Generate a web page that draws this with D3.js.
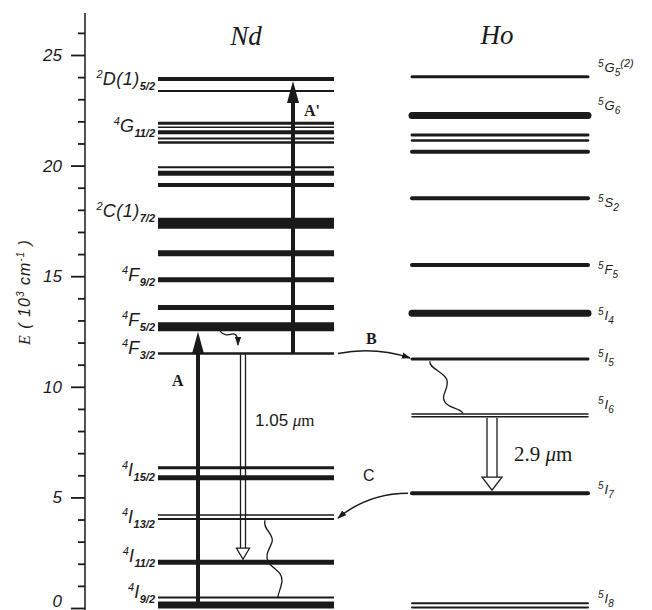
<!DOCTYPE html>
<html>
<head>
<meta charset="UTF-8">
<title>Nd - Ho energy levels</title>
<script src="https://d3js.org/d3.v7.min.js"></script>
<style>
  body { margin: 0; background: #fff; }
  svg { display: block; font-family: "Liberation Sans", Arial, sans-serif; }
</style>
</head>
<body>
<svg id="chart" width="652" height="610"></svg>
<script>
// energies in 10^3 cm^-1
var ndLevels = [23.91, 23.37, 21.91, 21.73, 21.51, 21.23, 21.04, 19.92, 19.65, 19.12,
                17.39, 16.04, 14.84, 13.58, 12.72, 11.51, 6.34, 5.89, 4.20, 4.02, 2.07, 0.48, 0.14];
var ndWeight = [4, 2, 3, 1.5, 4, 2, 2.5, 2, 5, 4, 11, 6, 5, 5, 9, 2.5, 3, 5, 1.5, 2, 5, 2, 7];

var hoLevels = [24.02, 22.26, 21.38, 21.13, 20.63, 18.52, 15.51, 13.32, 11.26, 8.77, 8.65, 5.19, 0.22, 0.02];
var hoWeight = [3, 7, 3, 2.5, 4, 4, 4, 7, 3, 1.5, 1.5, 4, 2, 2];

var ndSup = ["2", "4", "2", "4", "4", "4", "4", "4", "4", "4"];
var ndMain = ["D(1)", "G", "C(1)", "F", "F", "F", "I", "I", "I", "I"];
var ndSub = ["5/2", "11/2", "7/2", "9/2", "5/2", "3/2", "15/2", "13/2", "11/2", "9/2"];
var ndLabelE = [23.91, 21.79, 17.95, 15.05, 13.02, 11.75, 6.24, 4.11, 2.35, 0.72];

var hoSup = ["5", "5", "5", "5", "5", "5", "5", "5", "5"];
var hoMain = ["G", "G", "S", "F", "I", "I", "I", "I", "I"];
var hoSub = ["5", "6", "2", "5", "4", "5", "6", "7", "8"];
var hoExtra = ["(2)", "", "", "", "", "", "", "", ""];
var hoLabelE = [24.41, 22.69, 18.31, 15.28, 13.2, 11.3, 9.18, 5.33, 0.42];

var tickValues = d3.range(0, 27);
var tickLabels = ["0", "5", "10", "15", "20", "25"];

var svg = d3.select("#chart");
var ink = "#1a1a1a";
var y = d3.scaleLinear().domain([0, 25]).range([608, 55]);

var ndX = [158, 334], hoX = [412, 588];

// arrow heads
var defs = svg.append("defs");
defs.append("marker").attr("id", "head")
    .attr("viewBox", "0 0 10 10").attr("refX", 9).attr("refY", 5)
    .attr("markerWidth", 9).attr("markerHeight", 9).attr("orient", "auto")
    .attr("markerUnits", "userSpaceOnUse")
    .append("path").attr("d", "M0,1.5 L10,5 L0,8.5 Z").attr("fill", ink);

// axis
var axis = d3.axisLeft(y).tickValues(tickValues).tickSize(7).tickFormat("");
var gAxis = svg.append("g").attr("transform", "translate(85,0)").call(axis);
gAxis.select(".domain").remove();
gAxis.selectAll(".tick line").attr("stroke", ink).attr("stroke-width", 1.8)
    .attr("x2", function (d) { return d % 5 === 0 ? -14 : -7; });
gAxis.append("line").attr("x1", 0).attr("x2", 0)
    .attr("y1", y(26.9)).attr("y2", y(-0.2))
    .attr("stroke", ink).attr("stroke-width", 1.5);

svg.append("g").selectAll("text").data(tickLabels).enter().append("text")
    .attr("x", 62).attr("y", function (d) { return Math.min(y(+d) + 6, 607); })
    .attr("text-anchor", "end").attr("font-size", 17).attr("font-style", "italic")
    .attr("fill", ink).text(function (d) { return d; });

var yl = svg.append("text").attr("transform", "translate(30,292) rotate(-90)")
    .attr("text-anchor", "middle").attr("font-size", 16).attr("font-style", "italic")
    .attr("fill", ink).attr("letter-spacing", 1);
yl.append("tspan").attr("font-family", "Liberation Serif, serif").text("E");
yl.append("tspan").text(" ( 10");
yl.append("tspan").attr("font-size", 10).attr("dy", -6).text("3");
yl.append("tspan").attr("dy", 6).text(" cm");
yl.append("tspan").attr("font-size", 10).attr("dy", -6).text("-1");
yl.append("tspan").attr("dy", 6).text(" )");

// titles
svg.append("text").attr("x", 246).attr("y", 45).attr("text-anchor", "middle")
    .attr("font-family", "Liberation Serif, serif").attr("font-style", "italic")
    .attr("font-size", 27).attr("fill", ink).text("Nd");
svg.append("text").attr("x", 497).attr("y", 44).attr("text-anchor", "middle")
    .attr("font-family", "Liberation Serif, serif").attr("font-style", "italic")
    .attr("font-size", 27).attr("fill", ink).text("Ho");

// levels
svg.append("g").selectAll("line").data(ndLevels).enter().append("line")
    .attr("x1", ndX[0]).attr("x2", ndX[1])
    .attr("y1", function (d) { return y(d); }).attr("y2", function (d) { return y(d); })
    .attr("stroke", ink).attr("stroke-width", function (d, i) { return ndWeight[i]; });

svg.append("g").selectAll("line").data(hoLevels).enter().append("line")
    .attr("x1", hoX[0]).attr("x2", hoX[1])
    .attr("y1", function (d) { return y(d); }).attr("y2", function (d) { return y(d); })
    .attr("stroke", ink).attr("stroke-linecap", "round")
    .attr("stroke-width", function (d, i) { return hoWeight[i]; });

// level labels
ndLabelE.forEach(function (e, i) {
    var t = svg.append("text").attr("x", 155).attr("y", y(e) + 6)
        .attr("text-anchor", "end").attr("font-style", "italic").attr("fill", ink);
    t.append("tspan").attr("font-size", 11).attr("dy", -7).text(ndSup[i]);
    t.append("tspan").attr("font-size", 18).attr("dy", 7).attr("letter-spacing", 0.5).text(ndMain[i]);
    t.append("tspan").attr("font-size", 11).attr("font-weight", "bold").attr("dy", 5).text(ndSub[i]);
});

hoLabelE.forEach(function (e, i) {
    var t = svg.append("text").attr("x", 598).attr("y", y(e) + 4)
        .attr("font-style", "italic").attr("fill", ink);
    t.append("tspan").attr("font-size", 10).attr("dy", -5).text(hoSup[i]);
    t.append("tspan").attr("font-size", 13).attr("dy", 5).attr("dx", 1).text(hoMain[i]);
    t.append("tspan").attr("font-size", 10).attr("dy", 4).text(hoSub[i]);
    if (hoExtra[i]) t.append("tspan").attr("font-size", 11).attr("dy", -9).text(hoExtra[i]);
});

// solid pump arrows
function solidArrow(x, e0, e1, off) {
    var y0 = y(e0), tip = y(e1) + off;
    svg.append("line").attr("x1", x).attr("x2", x).attr("y1", y0).attr("y2", tip + 18)
        .attr("stroke", ink).attr("stroke-width", 4);
    svg.append("path").attr("d", "M" + x + "," + tip + " L" + (x - 6) + "," + (tip + 22) +
        " L" + (x + 6) + "," + (tip + 22) + " Z").attr("fill", ink);
}
solidArrow(198, ndLevels[22], ndLevels[14], 5);
solidArrow(293, ndLevels[15], ndLevels[0], 2);

// hollow emission arrows
function hollowArrow(x, e0, e1, gap, hw, hl) {
    var y0 = y(e0) + 1, tip = y(e1) - 3, base = tip - hl;
    [-gap / 2, gap / 2].forEach(function (dx) {
        svg.append("line").attr("x1", x + dx).attr("x2", x + dx).attr("y1", y0).attr("y2", base)
            .attr("stroke", ink).attr("stroke-width", 1.3);
    });
    svg.append("path").attr("d", "M" + (x - hw / 2) + "," + base + " L" + x + "," + tip +
        " L" + (x + hw / 2) + "," + base + " Z")
        .attr("fill", "#fff").attr("stroke", ink).attr("stroke-width", 1.3);
}
hollowArrow(243, ndLevels[15], ndLevels[20], 5, 13, 11);
hollowArrow(492, hoLevels[10], hoLevels[11], 10, 20, 13);

// non-radiative decays
function wavy(x, e, d, marker) {
    var p = svg.append("path").attr("d", "M" + x + "," + y(e) + d)
        .attr("fill", "none").attr("stroke", ink).attr("stroke-width", 1.3);
    if (marker) p.attr("marker-end", "url(#head)");
}
wavy(220, ndLevels[14] - 0.2, "c4,5 8,4 12,3 c5,-1 6,4 6,11", true);
wavy(265, ndLevels[19] - 0.05, "c-3,9 10,14 7,22 c-3,8 -7,12 -4,19 c3,7 15,10 14,20 c-1,8 -4,12 -4,16", false);
wavy(430, hoLevels[8] - 0.1, "c-2,7 15,11 17,19 c2,10 -7,15 -2,22 c5,7 13,5 18,11", false);

// energy transfer arrows
svg.append("path").attr("d", "M338," + y(ndLevels[15]) + " Q375," + (y(ndLevels[15]) - 7) +
    " 410," + (y(hoLevels[8]) - 1))
    .attr("fill", "none").attr("stroke", ink).attr("stroke-width", 1.5).attr("marker-end", "url(#head)");
svg.append("path").attr("d", "M408," + y(hoLevels[11]) + " Q368," + y(hoLevels[11]) +
    " 338," + (y(ndLevels[19]) - 1))
    .attr("fill", "none").attr("stroke", ink).attr("stroke-width", 1.5).attr("marker-end", "url(#head)");

// annotations
function note(x, yy, s, size, fam, weight) {
    return svg.append("text").attr("x", x).attr("y", yy).attr("font-size", size)
        .attr("font-family", fam).attr("font-weight", weight).attr("fill", ink).text(s);
}
note(304, 116, "A'", 16, "Liberation Serif, serif", "bold");
note(172, 386, "A", 16, "Liberation Serif, serif", "bold");
note(366, 344, "B", 16, "Liberation Serif, serif", "bold");
note(363, 481, "C", 16, "Liberation Sans, sans-serif", "normal");

var l1 = note(255, 426, "1.05 ", 17, "Liberation Sans, sans-serif", "normal");
l1.append("tspan").attr("font-family", "Liberation Serif, serif").attr("font-style", "italic").text("\u03bc");
l1.append("tspan").attr("font-family", "Liberation Serif, serif").text("m");
var l2 = note(514, 461, "2.9 ", 21, "Liberation Serif, serif", "normal");
l2.append("tspan").attr("font-style", "italic").text("\u03bc");
l2.append("tspan").text("m");
</script>
</body>
</html>
